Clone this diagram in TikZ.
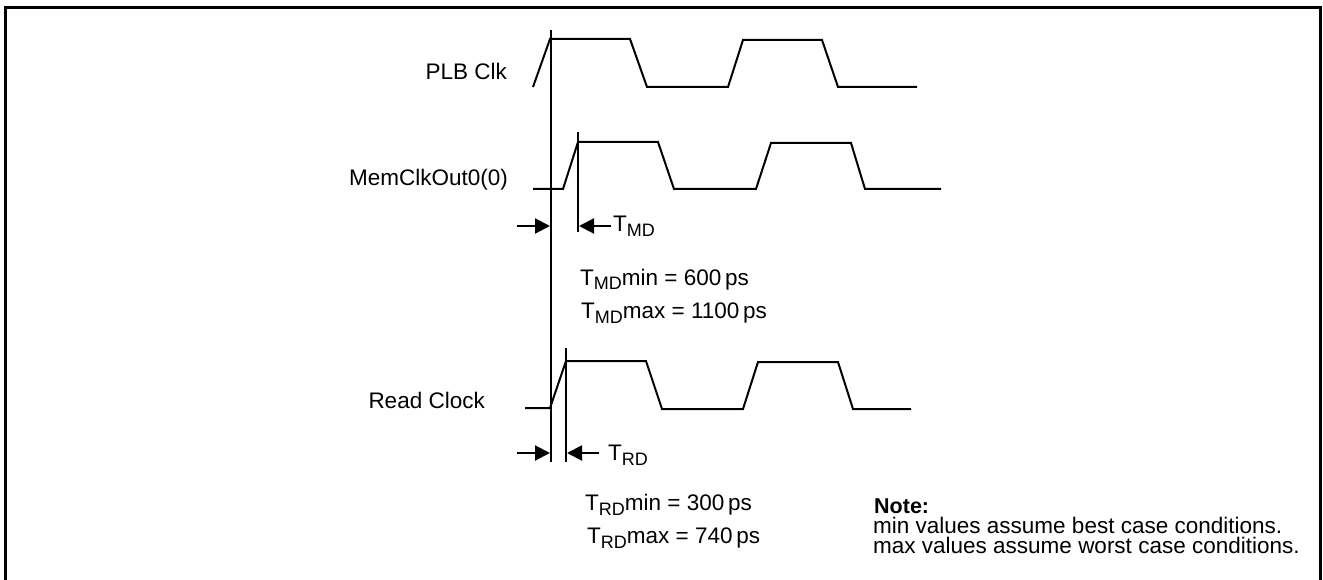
\documentclass[tikz,border=0pt]{standalone}
\usepackage{fontspec}
\setmainfont{Liberation Sans}
\usetikzlibrary{arrows.meta}
\newcommand{\mysub}[1]{\raisebox{-5pt}{\fontsize{18}{18}\selectfont #1}}
\tikzset{
  wave/.style={line width=2pt, line join=miter},
  refline/.style={line width=2pt},
  dimarrow/.style={line width=2pt, -{Triangle[length=15pt,width=15pt]}},
  lbl/.style={font=\fontsize{22.5}{22.5}\selectfont, inner sep=0pt, anchor=base west},
  lblr/.style={lbl, anchor=base east},
  frame/.style={line width=3pt},
}
\begin{document}
\begin{tikzpicture}[x=1pt,y=-1pt]
\useasboundingbox (0,0) rectangle (1323,580);
% frame (open at bottom)
\draw[frame] (5.5,585) -- (5.5,7.5) -- (1320,7.5) -- (1320,585);

% signal labels
\node[lblr] (plb) at (507,80) {PLB Clk};
\node[lblr] (mem) at (508,186) {MemClkOut0(0)};
\node[lblr] (rd) at (485,408) {Read Clock};

% PLB Clk
\draw[wave] (533,87) -- (550,39) -- (630,39) -- (647,87) -- (728,87) -- (743,40) -- (822,40) -- (838,87) -- (917,87);
% MemClkOut0(0)
\draw[wave] (533,189) -- (563,189) -- (578,142) -- (658,142) -- (674,189) -- (756,189) -- (771,143) -- (851,143) -- (865,189) -- (941,189);
% Read Clock
\draw[wave] (525,408) -- (550,408) -- (566,361) -- (646,361) -- (662,409) -- (743,409) -- (758,362) -- (838,362) -- (853,409) -- (911,409);

% reference lines
\coordinate (r0t) at (551,30);
\coordinate (r0b) at (551,462);
\coordinate (r1t) at (578,132);
\coordinate (r1b) at (578,232);
\coordinate (r2t) at (566,348);
\coordinate (r2b) at (566,462);
\draw[refline] (r0t) -- (r0b);
\draw[refline] (r1t) -- (r1b);
\draw[refline] (r2t) -- (r2b);

% TMD dimension
\coordinate (a1s) at (517,226);
\coordinate (a1e) at (550,226);
\coordinate (a2s) at (611,226);
\coordinate (a2e) at (579,226);
\draw[dimarrow] (a1s) -- (a1e);
\draw[dimarrow] (a2s) -- (a2e);
\node[lbl] (tmd) at (613,232) {T\mysub{MD}};

% TRD dimension
\coordinate (b1s) at (517,453);
\coordinate (b1e) at (550,453);
\coordinate (b2s) at (599,453);
\coordinate (b2e) at (567,453);
\draw[dimarrow] (b1s) -- (b1e);
\draw[dimarrow] (b2s) -- (b2e);
\node[lbl] (trd) at (608,460) {T\mysub{RD}};

% values
\node[lbl] (md1) at (580,285) {T\mysub{MD}min = 600\,ps};
\node[lbl] (md2) at (581,318) {T\mysub{MD}max = 1100\,ps};
\node[lbl] (rd1) at (585,510) {T\mysub{RD}min = 300\,ps};
\node[lbl] (rd2) at (587,543) {T\mysub{RD}max = 740\,ps};

% note
\node[lbl, font=\fontsize{21.5}{21.5}\selectfont\bfseries] (note) at (874,513) {Note:};
\node[lbl] (n1) at (873,533) {min values assume best case conditions.};
\node[lbl] (n2) at (873,553) {max values assume worst case conditions.};
\end{tikzpicture}
\end{document}
